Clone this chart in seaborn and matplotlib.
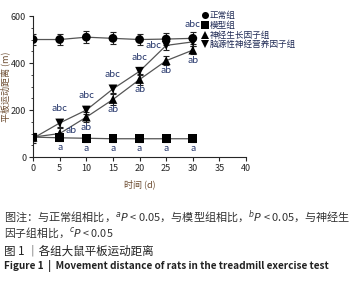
import numpy as np
import pandas as pd
import matplotlib
matplotlib.use("Agg")
import matplotlib.pyplot as plt
import seaborn as sns

# data
days = [0, 5, 10, 15, 20, 25, 30]
groups = ["正常组", "模型组", "神经生长因子组", "脑源性神经营养因子组"]
normal = [500, 500, 510, 505, 500, 502, 505]
model = [85, 82, 80, 78, 78, 78, 78]
ngf = [85, 100, 170, 245, 330, 410, 455]
bdnf = [80, 145, 200, 290, 365, 475, 490]
normal_sd = [25, 25, 25, 25, 25, 25, 25]
model_sd = [18, 15, 15, 15, 15, 15, 15]
ngf_sd = [18, 22, 22, 22, 22, 18, 18]
bdnf_sd = [18, 15, 18, 18, 18, 18, 18]

labels_bdnf = ["", "abc", "abc", "abc", "abc", "abc", "abc"]
labels_ngf = ["", "ab", "ab", "ab", "ab", "ab", "ab"]
labels_model = ["", "a", "a", "a", "a", "a", "a"]

sns.set_style("ticks")
plt.rcParams['font.family'] = ['Noto Sans CJK SC', 'DejaVu Sans']

df = pd.DataFrame({
    "day": days * 4,
    "dist": normal + model + ngf + bdnf,
    "sd": normal_sd + model_sd + ngf_sd + bdnf_sd,
    "group": [g for g in groups for _ in days],
})

fig = plt.figure(figsize=(3.52, 2.81), dpi=100)
ax = fig.add_axes([0.094, 0.441, 0.605, 0.502])

sns.lineplot(data=df, x="day", y="dist", units="group", estimator=None,
             color="#555555", lw=0.9, ax=ax, legend=False)
for g in groups:
    d = df[df.group == g]
    ax.errorbar(d.day, d.dist, yerr=d.sd, fmt="none", ecolor="#222222",
                elinewidth=0.8, capsize=2.5, capthick=0.8)
sns.scatterplot(data=df, x="day", y="dist", hue="group", style="group",
                palette=["black"] * 4, markers=["o", "s", "^", "v"],
                s=40, edgecolor="black", linewidth=0, ax=ax, zorder=5)

acol = "#24356a"
fs = 6.8
for x, y, t in zip(days, bdnf, labels_bdnf):
    if not t:
        continue
    if x == 25:
        ax.annotate(t, (x, y), xytext=(-9, 0), textcoords="offset points",
                    ha="center", va="center", fontsize=fs, color=acol)
    elif x == 30:
        ax.annotate(t, (x, 505), xytext=(0, 7), textcoords="offset points",
                    ha="center", va="bottom", fontsize=fs, color=acol)
    else:
        ax.annotate(t, (x, y), xytext=(0, 7), textcoords="offset points",
                    ha="center", va="bottom", fontsize=fs, color=acol)
for x, y, t in zip(days, ngf, labels_ngf):
    if not t:
        continue
    if x == 5:
        ax.annotate(t, (x, y), xytext=(8, 2), textcoords="offset points",
                    ha="center", va="center", fontsize=fs, color=acol)
    else:
        ax.annotate(t, (x, y), xytext=(0, -4), textcoords="offset points",
                    ha="center", va="top", fontsize=fs, color=acol)
for x, y, t in zip(days, model, labels_model):
    if t:
        ax.annotate(t, (x, y), xytext=(0, -4), textcoords="offset points",
                    ha="center", va="top", fontsize=fs, color=acol)

ax.set_xlim(0, 40)
ax.set_ylim(0, 600)
ax.set_xticks(range(0, 41, 5))
ax.set_yticks([0, 200, 400, 600])
ax.set_yticks(range(0, 601, 50), minor=True)
ax.tick_params(labelsize=6.5, length=3, width=0.8, pad=2)
ax.tick_params(which="minor", length=1.5, width=0.6)
ax.spines[["top", "right"]].set_visible(False)
ax.spines[["left", "bottom"]].set_linewidth(0.8)
ax.set_xlabel("时间 (d)", fontsize=6.5, color="#6b4a2e", labelpad=5)
ax.set_ylabel("平板运动距离 (m)", fontsize=6.5, color="#6b4a2e")
ax.yaxis.set_label_coords(-0.108, 0.5)

leg = ax.legend(loc="upper left", bbox_to_anchor=(0.573, 0.96),
                bbox_transform=fig.transFigure, frameon=False, fontsize=6.2,
                handletextpad=0.25, labelspacing=0.08, borderaxespad=0,
                borderpad=0, handlelength=0.7, markerscale=0.8)
for t in leg.get_texts():
    t.set_color("#1f2a55")

fig.text(0.01, 0.228, "图注：与正常组相比，$^{a}$$P$ < 0.05，与模型组相比，$^{b}$$P$ < 0.05，与神经生",
         fontsize=8, color="#333333", va="center")
fig.text(0.01, 0.170, "因子组相比，$^{c}$$P$ < 0.05", fontsize=7.8, color="#333333", va="center")
fig.text(0.01, 0.107, "图 1 ｜各组大鼠平板运动距离", fontsize=8.3, color="#222222", va="center")
fig.text(0.01, 0.053, "Figure 1  |  Movement distance of rats in the treadmill exercise test",
         fontsize=7.2, fontweight="bold", color="#222222", va="center")

fig.savefig("out.png", dpi=100)
